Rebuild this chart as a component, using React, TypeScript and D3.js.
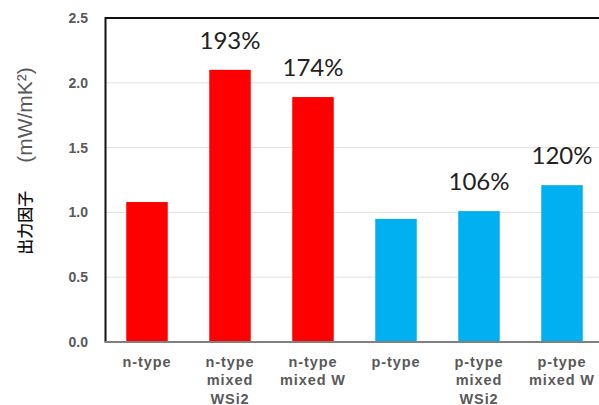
import React from "react";
import * as d3 from "d3";

const categories: string[][] = [
  ["n-type"],
  ["n-type", "mixed", "WSi2"],
  ["n-type", "mixed W"],
  ["p-type"],
  ["p-type", "mixed", "WSi2"],
  ["p-type", "mixed W"],
];
const values: number[] = [1.08, 2.1, 1.89, 0.95, 1.01, 1.21];
const barColors: string[] = ["#ff0000", "#ff0000", "#ff0000", "#00b0f0", "#00b0f0", "#00b0f0"];
const ratioLabels: (string | null)[] = [null, "193%", "174%", null, "106%", "120%"];
const yTicks: number[] = [0, 0.5, 1.0, 1.5, 2.0, 2.5];

const W = 599;
const H = 405;
const left = 105.5;
const top = 18;
const bottom = 342;
const band = 83;

export default function App() {
  const idx = categories.map((_, i) => String(i));
  const x = d3
    .scaleBand<string>()
    .domain(idx)
    .range([left, left + band * categories.length])
    .paddingInner(0.5)
    .paddingOuter(0.25);
  const y = d3.scaleLinear().domain([0, 2.5]).range([bottom, top]);
  const bw = x.bandwidth();

  return (
    <svg
      width={W}
      height={H}
      style={{ position: "absolute", left: 0, top: 0, background: "#fff" }}
    >
      {/* gridlines */}
      {yTicks
        .filter((t) => t > 0 && t < 2.5)
        .map((t) => (
          <line key={t} x1={left} x2={W} y1={y(t)} y2={y(t)} stroke="#e0e0e0" strokeWidth={1} />
        ))}
      {/* bars */}
      {values.map((v, i) => (
        <rect
          key={i}
          x={x(String(i))!}
          y={y(v)}
          width={bw}
          height={y(0) - y(v)}
          fill={barColors[i]}
        />
      ))}
      {/* frame */}
      <line x1={left} x2={W} y1={top} y2={top} stroke="#111" strokeWidth={2} />
      <line x1={left} x2={left} y1={top - 1} y2={bottom} stroke="#111" strokeWidth={2} />
      <line x1={left - 1} x2={W} y1={bottom} y2={bottom} stroke="#808080" strokeWidth={2} />
      {/* y ticks */}
      {yTicks.map((t) => (
        <text
          key={t}
          x={88}
          y={y(t)}
          dy="0.36em"
          textAnchor="end"
          fontFamily="Liberation Sans, Arial, sans-serif"
          fontWeight="bold"
          fontSize={14}
          fill="#595959"
        >
          {d3.format(".1f")(t)}
        </text>
      ))}
      {/* category labels */}
      {categories.map((lines, i) => (
        <text
          key={i}
          textAnchor="middle"
          fontFamily="Liberation Sans, Arial, sans-serif"
          fontWeight="bold"
          fontSize={14.5}
          letterSpacing={0.9}
          fill="#595959"
        >
          {lines.map((l, j) => (
            <tspan key={j} x={x(String(i))! + bw / 2} y={366.5 + j * 18.5}>
              {l}
            </tspan>
          ))}
        </text>
      ))}
      {/* ratio labels */}
      {values.map((v, i) =>
        ratioLabels[i] ? (
          <text
            key={i}
            x={x(String(i))! + bw / 2}
            y={y(v) - 21}
            textAnchor="middle"
            fontFamily="Lato, sans-serif"
            fontSize={24}
            fill="#222"
          >
            {ratioLabels[i]}
          </text>
        ) : null
      )}
      {/* y axis title */}
      <text
        transform="translate(24,161) rotate(-90)"
        textAnchor="middle"
        dominantBaseline="central"
        fontFamily="Liberation Sans, Arial, sans-serif"
      >
        <tspan fontFamily="Noto Sans CJK JP" fontWeight={500} fontSize={16} fill="#111">
          出力因子
        </tspan>
        <tspan fontSize={21} fill="#595959" dx={28}>
          (mW/mK²)
        </tspan>
      </text>
    </svg>
  );
}
